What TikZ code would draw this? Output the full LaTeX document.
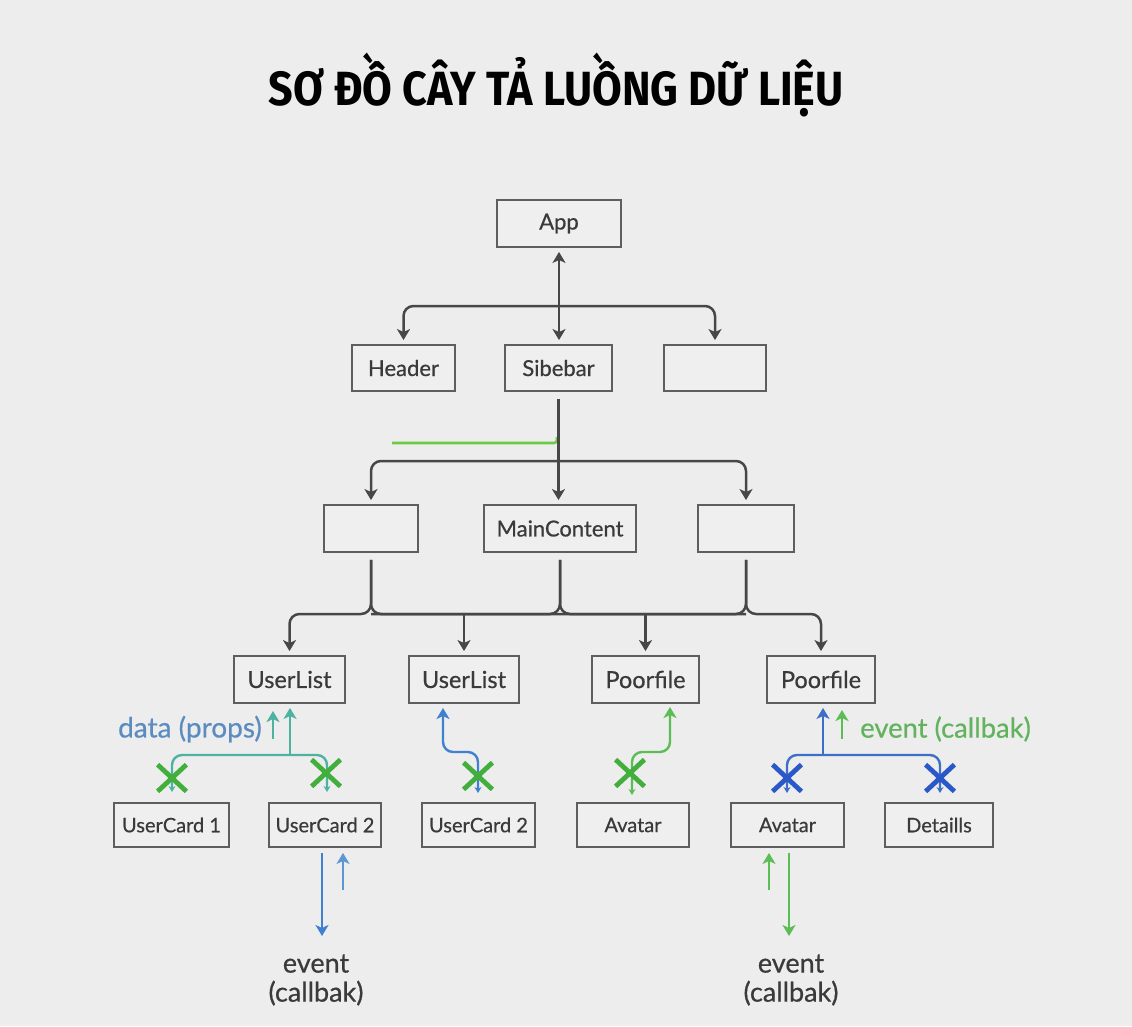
\documentclass[tikz,border=0pt]{standalone}
\usepackage{fontspec}
\setmainfont{Lato}[FakeBold=0.6]
\newfontfamily\titlefont{Fira Sans}
\usetikzlibrary{arrows.meta,shapes.misc}
\definecolor{bg}{HTML}{EDEDED}
\definecolor{boxfill}{HTML}{EFEFEF}
\definecolor{ink}{HTML}{3A3A3A}
\definecolor{edgec}{HTML}{474747}
\definecolor{boxline}{HTML}{5E5E5E}
\definecolor{tealc}{HTML}{4DB3A0}
\definecolor{propsblue}{HTML}{5B8CC0}
\definecolor{blueS}{HTML}{3F80D0}
\definecolor{blueL}{HTML}{5C97D2}
\definecolor{blueT}{HTML}{3C6FC6}
\definecolor{blueX}{HTML}{2A58C8}
\definecolor{greenS}{HTML}{5CBD55}
\definecolor{greenX}{HTML}{42AE3C}
\definecolor{greentxt}{HTML}{63B35E}
\definecolor{greenline}{HTML}{6BCB45}
\begin{document}
\begin{tikzpicture}[x=1pt,y=-1pt,
  >={Stealth[length=11pt,width=13pt,inset=3pt]},
  box/.style={draw=boxline, fill=boxfill, line width=1.9pt, text=ink, inner sep=0pt,
    minimum height=47pt, font=\fontsize{22}{26}\selectfont},
  rowfour/.style={box, font=\fontsize{23.5}{27}\selectfont},
  smallbox/.style={box, minimum height=44pt, font=\fontsize{20}{24}\selectfont},
  tree/.style={draw=edgec, line width=2.5pt, rounded corners=10pt},
  col/.style={line width=2.4pt, rounded corners=10pt},
  smalltip/.style={{Stealth[length=6pt,width=7pt]}-{Stealth[length=6pt,width=7pt]}},
  xmark/.style={cross out, line width=4.8pt, minimum width=24pt, minimum height=22pt, inner sep=0pt},
  lbl/.style={font=\fontsize{27}{29}\selectfont}]
\useasboundingbox (0,0) rectangle (1132,1026);
\fill[bg] (0,0) rectangle (1132,1026);

% title
\node[anchor=base, text=black] (title) at (556,105)
  {\resizebox{575pt}{\height}{\titlefont\bfseries\fontsize{48}{52}\selectfont SƠ ĐỒ CÂY TẢ LUỒNG DỮ LIỆU}};

% boxes
\node[box, minimum width=124pt] (app) at (559,223.5) {App};
\node[box, minimum width=103pt, minimum height=46pt] (header) at (403.5,368) {Header};
\node[box, minimum width=107pt, minimum height=46pt] (sib) at (558.5,368) {Sibebar};
\node[box, minimum width=102pt, minimum height=46pt] (r2) at (715,368) {};
\node[box, minimum width=94pt] (l3) at (371,528.5) {};
\node[box, minimum width=152pt] (main) at (560,528.5) {MainContent};
\node[box, minimum width=96pt] (r3) at (746,528.5) {};
\node[rowfour, minimum width=111pt] (ul1) at (289.5,679.5) {UserList};
\node[rowfour, minimum width=110pt] (ul2) at (464,679.5) {UserList};
\node[rowfour, minimum width=107pt] (pf1) at (645.5,679.5) {Poorfile};
\node[rowfour, minimum width=108pt] (pf2) at (821,679.5) {Poorfile};
\node[smallbox, minimum width=115pt] (uc1) at (171.5,825) {UserCard 1};
\node[smallbox, minimum width=112pt] (uc2) at (325,825) {UserCard 2};
\node[smallbox, minimum width=113pt] (uc2b) at (478.5,825) {UserCard 2};
\node[smallbox, minimum width=112pt] (av1) at (633,825) {Avatar};
\node[smallbox, minimum width=113pt] (av2) at (787.5,825) {Avatar};
\node[smallbox, minimum width=108pt] (det) at (939,825) {Detaills};

% level 1 -> 2
\coordinate (b1) at (559,306);
\draw[tree, <->, shorten <=4pt, shorten >=4pt] (app.south) -- (app.south |- sib.north);
\draw[tree, ->, shorten >=4pt] (b1) -- (b1 -| header) -- (header.north);
\draw[tree, ->, shorten >=4pt] (b1) -- (b1 -| r2) -- (r2.north);

% level 2 -> 3
\coordinate (b2) at (559,461);
\coordinate (g0) at (392,443);
\draw[greenline, line width=2.6pt, rounded corners=3pt] (g0) -- (557,443) -- (557,437);
\draw[tree, ->, shorten <=7pt, shorten >=4pt] (sib.south) -- (sib.south |- main.north);
\draw[tree, ->, shorten >=4pt] (b2) -- (b2 -| l3) -- (l3.north);
\draw[tree, ->, shorten >=4pt] (b2) -- (b2 -| r3) -- (r3.north);

% level 3 -> 4
\coordinate (h) at (0,614);
\draw[tree, ->, shorten <=7pt, shorten >=4pt] (l3.south) -- (l3.south |- h) -- (ul1.north |- h) -- (ul1.north);
\draw[tree, shorten <=7pt] (l3.south) -- (l3.south |- h) -- (main.south |- h);
\draw[tree, shorten <=7pt] (main.south) -- (main.south |- h) -- (l3.south |- h);
\draw[tree, shorten <=7pt] (main.south) -- (main.south |- h) -- (r3.south |- h);
\draw[tree, shorten <=7pt] (r3.south) -- (r3.south |- h) -- (main.south |- h);
\draw[tree, ->, shorten <=7pt, shorten >=4pt] (r3.south) -- (r3.south |- h) -- (pf2.north |- h) -- (pf2.north);
\draw[tree, ->, shorten >=4pt] (ul2.north |- h) -- (ul2.north);
\draw[tree, ->, shorten >=4pt] (pf1.north |- h) -- (pf1.north);

% UserList 1 tree (teal)
\coordinate (t1) at (290,755);
\coordinate (t1a) at (172,792);
\coordinate (t1b) at (327,792);
\draw[col, draw=tealc, ->, shorten >=4pt] (t1) -- (t1 |- ul1.south);
\draw[col, draw=tealc, smalltip] (t1a) -- (t1a |- t1) -- (t1b |- t1) -- (t1b);
\coordinate (s1) at (273,739);
\draw[col, draw=tealc, ->] (s1) -- (273,711);
\node[lbl, text=propsblue, anchor=east, inner sep=0pt, font=\fontsize{28}{30}\selectfont] (props) at (262,729) {data (props)};
\node[xmark, draw=greenX] (x1) at (172,778) {};
\node[xmark, draw=greenX] (x2) at (326,773) {};

% UserList 2 S-path (blue)
\coordinate (s2a) at (478,793);
\coordinate (s2b) at (443,708);
\draw[col, draw=blueS, {Stealth[length=6pt,width=7pt]}->] (s2a) -- (478,752) -- (443,752) -- (s2b);
\node[xmark, draw=greenX] (x3) at (478,776) {};

% Poorfile 1 S-path (green)
\coordinate (s3a) at (632,795);
\coordinate (s3b) at (670,707);
\draw[col, draw=greenS, {Stealth[length=6pt,width=7pt]}->] (s3a) -- (632,752) -- (670,752) -- (s3b);
\node[xmark, draw=greenX] (x4) at (630,773) {};

% Poorfile 2 tree (blue)
\coordinate (t2) at (823,755);
\coordinate (t2a) at (787,793);
\coordinate (t2b) at (940,793);
\draw[col, draw=blueT, ->, shorten >=4pt] (t2) -- (t2 |- pf2.south);
\draw[col, draw=blueT, smalltip] (t2a) -- (t2a |- t2) -- (t2b |- t2) -- (t2b);
\node[xmark, draw=blueX] (x5) at (787,778) {};
\node[xmark, draw=blueX] (x6) at (940,778) {};
\coordinate (s4) at (842,739);
\draw[col, draw=greenS, ->] (s4) -- (842,710);
\node[lbl, text=greentxt, anchor=west, inner sep=0pt, font=\fontsize{27.4}{30}\selectfont] (evr) at (860,729) {event (callbak)};

% bottom events
\node[lbl, text=ink, align=center, inner sep=0pt] (ev1) at (316,980) {event\\(callbak)};
\node[lbl, text=ink, align=center, inner sep=0pt] (ev2) at (791,980) {event\\(callbak)};
\coordinate (e1) at (322,936);
\coordinate (e2) at (343,890);
\coordinate (e3) at (769,890);
\coordinate (e4) at (789,936);
\draw[col, draw=blueS, ->, shorten <=5pt] (e1 |- uc2.south) -- (e1);
\draw[col, draw=blueL, ->, shorten >=5pt] (e2) -- (e2 |- uc2.south);
\draw[col, draw=greenS, ->, shorten >=5pt] (e3) -- (e3 |- av2.south);
\draw[col, draw=greenS, ->, shorten <=5pt] (e4 |- av2.south) -- (e4);
\end{tikzpicture}
\end{document}
